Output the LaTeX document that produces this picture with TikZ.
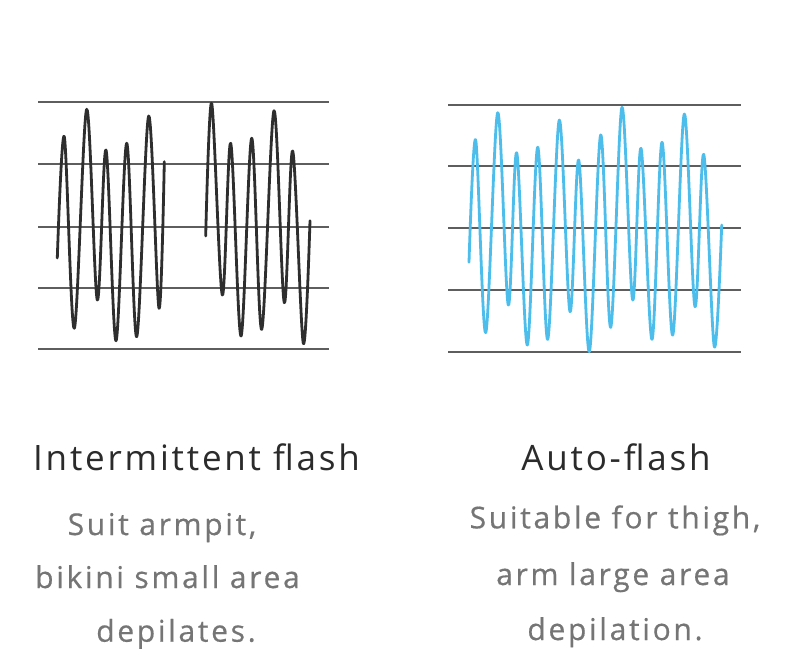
\documentclass[tikz,border=0pt]{standalone}
\usepackage{fontspec}
\setmainfont{Open Sans}[LetterSpace=8]
\newfontfamily\bodyfont{Open Sans}[LetterSpace=9, FakeBold=0.5]
\definecolor{gridgray}{HTML}{5E5E5E}
\definecolor{waveblack}{HTML}{2E2E2E}
\definecolor{wavesky}{HTML}{4DBDEB}
\definecolor{titleink}{HTML}{2B2B2B}
\definecolor{bodyink}{HTML}{757575}

\begin{document}
\begin{tikzpicture}[x=1pt,y=-1pt,
  gridline/.style={draw=gridgray, line width=1.6pt},
  wave/.style={line width=2.8pt, line join=round, line cap=round},
  title/.style={anchor=base, text=titleink, inner sep=0pt, font=\fontsize{35}{41}\selectfont},
  body/.style={anchor=base, text=bodyink, inner sep=0pt, font=\bodyfont\fontsize{30}{36}\selectfont}]
\fill[white] (0,0) rectangle (790,671);
\useasboundingbox (0,0) rectangle (790,671);

% grid lines
\foreach \y in {102,164,227,288,349}
  \draw[gridline] (38,\y) -- (329,\y);
\foreach \y in {105,166,228,290,352}
  \draw[gridline] (448,\y) -- (741,\y);

% intermittent wave, two bursts
\draw[wave, draw=waveblack] plot[smooth, tension=0.55] coordinates {
  (57.3,258) (64.3,136.7) (74.3,328.3) (86.7,109.3) (97.3,300) (106,150)
  (116,340.7) (126.7,143.3) (136.7,336.7) (148.7,116) (159,308.3) (164.3,161.7)};
\draw[wave, draw=waveblack] plot[smooth, tension=0.55] coordinates {
  (205.7,236) (211.7,103.3) (222.3,295) (230.7,143.3) (241,336) (251.7,138.3)
  (261.7,329.3) (274,110.7) (284.3,302.7) (292.7,151) (303.3,343.3) (310,220.7)};

% auto wave
\draw[wave, draw=wavesky] plot[smooth, tension=0.55] coordinates {
  (469,262.3) (475.7,140) (485.7,332.7) (497.7,112.7) (508.3,305) (516.7,152.7)
  (527.3,345) (537.7,147.3) (547.7,339.3) (559.3,120) (570,311.7) (578.7,160)
  (589.3,351.7) (600.7,135) (610.7,327.3) (622,107.3) (632.7,300) (641,148.3)
  (652,339.3) (662,142.3) (672.7,335) (684.3,114) (695,306.7) (703.7,154.3)
  (714.3,346.7) (721.7,225)};

% labels
\node[title] (intTitle) at (196.5,470) {Intermittent flash};
\node[body] (intLineA) at (162,535) {Suit armpit,};
\node[body] (intLineB) at (167.5,588) {bikini small area};
\node[body] (intLineC) at (176,641.7) {depilates.};

\node[title] (autoTitle) at (616,470) {Auto-flash};
\node[body] (autoLineA) at (615,528.3) {Suitable for thigh,};
\node[body] (autoLineB) at (613,585) {arm large area};
\node[body] (autoLineC) at (615,640) {depilation.};
\end{tikzpicture}
\end{document}
